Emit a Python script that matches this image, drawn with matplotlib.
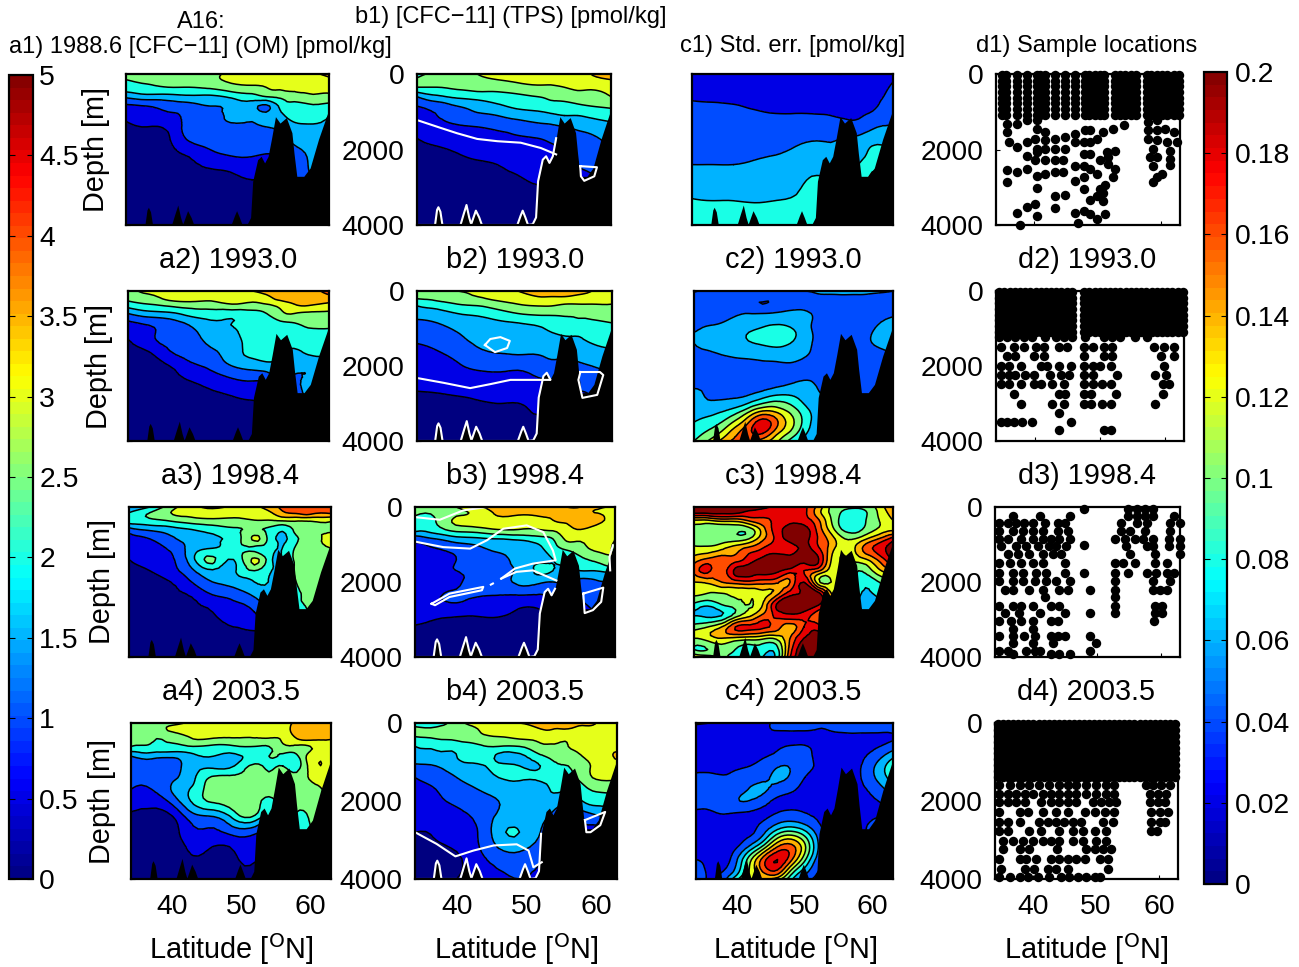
import numpy as np
import matplotlib
matplotlib.use("Agg")
import matplotlib.pyplot as plt
import matplotlib.tri as mtri
from matplotlib.cm import ScalarMappable
from matplotlib.colors import ListedColormap, Normalize
from matplotlib.patches import Rectangle

plt.rcParams["font.family"] = ["Liberation Sans", "DejaVu Sans"]
plt.rcParams["mathtext.default"] = "regular"

W, H = 1299, 967

# grids for a, b and c1 panels
lat_ab = [34, 37, 40, 43, 46, 49, 52, 54, 56, 58, 60, 63]
dep_ab = [0, 150, 350, 600, 850, 1100, 1400, 1700, 2000, 2400, 2800, 3300, 4000]
# finer grid for c2-c4
lat_c = [34, 36, 38, 40, 42, 44, 46, 48, 50, 52, 54, 56, 58, 60, 63]
dep_c = [0, 150, 350, 600, 850, 1100, 1400, 1700, 2000, 2300, 2600, 2900, 3200, 3500, 3800, 4000]

a1 = [[2.6,2.7,2.7,2.8,2.9,3.1,3.2,3.2,3.2,3.3,3.4,3.6],
      [2.5,2.6,2.7,2.8,2.9,3.1,3.2,3.2,3.2,3.3,3.3,3.4],
      [2.3,2.4,2.5,2.5,2.6,2.8,2.9,3.0,3.1,3.1,3.1,3.1],
      [1.6,1.8,1.8,1.9,1.9,2.1,2.3,2.5,2.6,2.8,2.9,2.9],
      [0.9,1.0,1.2,1.3,1.5,1.6,1.7,1.4,2.1,2.3,2.4,2.3],
      [0.6,0.8,0.9,1.1,1.3,1.6,1.6,1.7,1.9,2.2,2.3,2.0],
      [0.4,0.5,0.6,1.2,1.3,1.4,1.4,1.5,1.6,1.8,1.9,1.9],
      [0.3,0.4,0.45,1.1,1.2,1.3,1.35,1.3,1.4,1.6,1.8,1.9],
      [0.3,0.3,0.4,0.7,1.0,1.2,1.2,1.1,1.2,1.4,1.6,1.9],
      [0.2,0.2,0.3,0.4,0.6,0.7,0.8,0.8,0.9,1.2,1.5,1.9],
      [0.2,0.2,0.2,0.3,0.3,0.4,0.5,0.5,0.6,1.0,1.4,1.9],
      [0.1,0.1,0.2,0.2,0.2,0.3,0.3,0.3,0.3,0.5,1.0,1.9],
      [0.1,0.1,0.1,0.1,0.2,0.2,0.2,0.2,0.2,0.2,0.5,1.0]]

a2 = [[2.8,3.1,3.2,3.3,3.2,3.3,3.5,3.7,3.8,3.8,3.8,4.2],
      [2.7,2.9,3.2,3.3,3.2,3.3,3.2,3.4,3.8,3.8,3.8,3.9],
      [2.3,2.5,2.7,2.8,2.8,3.0,2.9,3.0,3.2,3.5,3.6,3.4],
      [1.5,1.8,1.9,2.2,2.3,2.2,2.3,2.5,2.9,3.0,2.9,2.9],
      [0.9,1.1,1.3,1.6,1.9,2.0,2.1,2.2,2.4,2.5,2.6,2.6],
      [0.7,0.9,1.2,1.4,1.7,1.9,2.2,2.2,2.2,2.3,2.4,2.4],
      [0.4,0.8,1.1,1.2,1.6,1.8,2.2,2.2,2.1,2.1,2.2,2.1],
      [0.3,0.4,0.9,1.1,1.3,1.8,2.1,2.2,2.1,1.9,2.0,2.0],
      [0.2,0.3,0.5,0.9,1.1,1.5,1.7,1.8,1.8,1.7,1.6,1.9],
      [0.1,0.2,0.3,0.5,0.7,0.9,1.0,1.1,1.4,1.4,1.7,1.9],
      [0.1,0.1,0.2,0.3,0.4,0.5,0.6,0.7,0.9,1.0,1.7,1.9],
      [0.1,0.1,0.1,0.2,0.2,0.2,0.2,0.3,0.3,0.3,0.5,1.0],
      [0.1,0.1,0.1,0.1,0.1,0.1,0.1,0.2,0.2,0.2,0.2,0.5]]

a3 = [[1.5,2.0,2.8,3.3,3.6,3.4,3.4,3.7,4.1,4.2,4.1,4.1],
      [2.0,2.5,3.0,3.2,3.3,3.2,3.2,3.4,3.9,4.1,4.2,4.1],
      [2.3,2.4,2.6,2.8,2.9,2.9,3.0,3.0,3.1,3.1,3.1,3.1],
      [1.3,1.6,1.8,2.0,2.2,2.4,2.6,2.4,2.1,2.7,2.9,2.9],
      [0.8,1.0,1.4,1.7,1.9,2.2,3.1,2.4,1.9,2.4,2.8,3.2],
      [0.7,0.8,1.1,1.7,2.0,2.2,2.4,2.2,2.0,2.6,3.0,3.0],
      [0.5,0.7,0.9,1.8,2.6,2.0,3.1,2.3,2.0,2.6,2.8,2.9],
      [0.4,0.5,0.8,1.4,1.9,1.9,2.5,2.1,2.0,2.6,2.9,3.1],
      [0.3,0.4,0.5,1.0,1.5,1.7,2.0,2.0,2.0,2.5,2.8,2.8],
      [0.2,0.3,0.4,0.5,0.9,1.1,1.5,1.8,2.0,2.4,2.6,2.8],
      [0.1,0.2,0.3,0.4,0.5,0.8,1.0,1.5,2.0,2.2,2.5,2.8],
      [0.1,0.1,0.2,0.3,0.3,0.4,0.5,0.5,0.5,1.0,1.5,2.0],
      [0.1,0.1,0.1,0.1,0.1,0.2,0.2,0.2,0.2,0.5,0.5,1.0]]

a4 = [[2.7,2.8,2.8,3.2,3.2,3.2,3.3,3.3,3.3,3.6,3.7,3.8],
      [2.7,2.8,3.1,3.2,3.2,3.2,3.2,3.3,3.3,3.7,3.8,3.9],
      [2.6,2.6,2.7,3.1,3.1,3.05,3.05,3.1,3.1,3.6,3.8,3.7],
      [2.5,2.4,2.4,2.5,2.4,2.45,2.5,2.5,2.9,2.9,3.0,3.1],
      [1.5,1.7,1.6,1.9,2.0,1.9,2.2,2.5,2.4,2.4,3.2,3.2],
      [1.2,1.2,1.3,1.8,1.9,2.0,2.6,2.4,2.5,2.3,3.2,3.2],
      [1.1,1.1,1.4,1.9,2.6,2.6,2.7,2.7,2.7,2.7,3.05,3.1],
      [1.0,1.0,1.55,2.1,2.8,2.8,2.8,2.8,2.8,2.8,2.85,3.1],
      [0.75,0.65,1.2,2.1,2.6,2.8,2.8,2.3,2.8,2.8,2.8,3.0],
      [0.45,0.4,0.48,1.3,1.5,2.2,2.4,2.0,2.8,2.4,2.6,2.8],
      [0.4,0.3,0.3,0.9,0.9,1.2,1.1,1.5,2.8,2.4,2.4,2.5],
      [0.2,0.2,0.2,0.55,0.4,0.5,0.6,1.0,2.8,2.8,2.0,2.0],
      [0.1,0.1,0.1,0.2,0.2,0.2,0.3,0.5,2.8,2.8,1.0,1.0]]

b1 = [[2.2,2.7,2.8,3.0,3.1,3.2,3.3,3.3,3.3,3.4,3.5,3.8],
      [2.6,2.8,2.8,2.9,3.0,3.1,3.2,3.2,3.3,3.3,3.4,3.5],
      [2.5,2.5,2.6,2.7,2.7,2.8,2.9,2.9,3.0,3.1,3.1,3.2],
      [1.5,1.9,2.1,2.2,2.3,2.4,2.5,2.6,2.7,2.8,2.8,3.0],
      [1.0,1.2,1.5,1.7,1.9,2.1,2.2,2.3,2.3,2.4,2.5,2.6],
      [0.85,1.0,1.2,1.4,1.5,1.7,1.8,1.9,2.0,2.0,2.1,2.2],
      [0.7,0.85,0.95,1.0,1.1,1.2,1.35,1.4,1.5,1.6,1.7,1.9],
      [0.5,0.65,0.75,0.8,0.85,0.95,1.0,1.1,1.2,1.3,1.4,1.7],
      [0.4,0.45,0.55,0.65,0.7,0.75,0.8,0.9,1.0,1.1,1.2,1.5],
      [0.3,0.35,0.4,0.45,0.5,0.6,0.7,0.8,0.9,1.0,1.1,1.3],
      [0.2,0.25,0.3,0.35,0.4,0.45,0.55,0.6,0.8,0.85,0.9,1.1],
      [0.1,0.15,0.2,0.2,0.25,0.3,0.4,0.4,0.5,0.6,0.7,0.9],
      [0.1,0.1,0.1,0.15,0.2,0.2,0.3,0.3,0.4,0.5,0.5,0.6]]

b2 = [[2.5,2.8,3.0,3.1,3.3,3.5,3.7,3.8,3.8,3.7,3.5,3.2],
      [2.6,2.7,2.8,3.0,3.2,3.3,3.5,3.5,3.5,3.4,3.3,3.2],
      [2.1,2.3,2.5,2.6,2.8,3.0,3.1,3.1,3.0,3.0,3.0,3.0],
      [1.7,1.8,2.0,2.1,2.3,2.5,2.6,2.6,2.6,2.6,2.7,2.8],
      [1.4,1.5,1.7,1.8,1.9,2.0,2.1,2.2,2.3,2.4,2.4,2.5],
      [1.2,1.3,1.5,1.7,1.8,1.8,1.9,2.0,2.1,2.1,2.2,2.3],
      [1.0,1.1,1.3,1.6,1.95,1.8,1.7,1.7,1.8,1.9,2.0,2.1],
      [0.85,0.95,1.1,1.3,1.4,1.5,1.5,1.6,1.6,1.7,1.8,1.9],
      [0.8,0.85,0.95,1.1,1.1,1.1,1.2,1.3,1.3,1.4,1.5,1.7],
      [0.7,0.7,0.7,0.75,0.8,0.85,0.95,1.0,1.1,1.2,1.2,1.4],
      [0.4,0.45,0.5,0.55,0.6,0.6,0.7,0.8,0.9,0.9,1.0,1.1],
      [0.2,0.25,0.3,0.3,0.35,0.4,0.5,0.5,0.6,0.7,0.8,0.9],
      [0.1,0.1,0.1,0.2,0.2,0.3,0.3,0.4,0.4,0.5,0.5,0.6]]

b3 = [[2.7,2.7,3.0,3.4,3.7,3.7,3.7,3.8,4.0,4.0,3.6,3.5],
      [2.6,2.6,2.9,3.1,3.6,3.6,3.6,3.6,3.7,3.7,3.5,3.3],
      [2.4,2.5,3.1,3.2,3.4,3.3,3.4,3.5,3.6,3.7,3.7,3.3],
      [2.2,2.3,2.7,2.8,3.0,3.0,3.0,3.1,3.3,3.5,3.3,3.1],
      [1.2,1.5,1.8,1.9,2.0,2.1,2.3,2.5,3.1,3.1,3.2,3.0],
      [0.9,1.0,1.2,1.4,1.6,1.7,1.9,2.3,2.6,2.8,3.1,2.9],
      [0.7,0.8,1.0,1.2,1.3,1.7,1.9,2.0,2.2,2.4,2.6,3.0],
      [0.7,0.9,1.0,1.1,1.3,1.6,2.1,2.0,1.9,2.0,2.0,2.2],
      [0.75,0.8,0.9,1.2,1.3,1.6,1.6,1.5,1.5,1.3,1.4,1.5],
      [0.7,0.95,1.1,1.0,0.95,0.9,0.9,1.0,1.0,1.0,1.2,1.3],
      [0.65,0.65,0.65,0.6,0.6,0.45,0.45,0.7,0.9,0.9,1.0,1.1],
      [0.45,0.4,0.35,0.3,0.3,0.3,0.3,0.3,0.7,0.8,0.9,1.0],
      [0.2,0.2,0.2,0.2,0.2,0.2,0.2,0.2,0.4,0.5,0.6,0.7]]

b4 = [[2.3,2.2,2.8,3.2,3.4,3.5,3.6,3.6,3.6,3.6,3.5,3.2],
      [2.6,2.6,2.8,3.0,3.2,3.3,3.5,3.5,3.5,3.4,3.4,3.3],
      [2.5,2.6,2.7,2.9,3.0,3.1,3.2,3.3,3.1,3.3,3.3,3.2],
      [2.0,2.1,2.2,2.4,2.5,2.5,2.9,2.9,3.0,3.2,3.3,3.3],
      [1.8,1.9,2.0,2.3,1.9,1.9,2.4,2.6,2.7,3.0,3.2,3.6],
      [1.4,1.5,1.8,1.9,2.1,2.0,2.0,2.4,2.5,2.8,3.1,3.2],
      [1.0,1.2,1.5,1.7,2.0,2.1,2.1,2.2,2.3,2.7,3.05,3.05],
      [0.9,1.0,1.3,1.5,1.7,1.7,1.7,2.1,2.0,2.3,2.6,2.6],
      [0.7,0.9,1.1,1.3,1.5,1.6,1.7,1.7,1.6,2.0,2.2,2.2],
      [0.6,0.7,0.9,1.1,1.6,1.7,1.6,1.4,1.2,1.2,1.4,1.6],
      [0.5,0.55,0.75,1.0,1.8,2.0,1.5,1.2,1.0,0.9,0.8,1.0],
      [0.3,0.4,0.5,0.9,1.4,1.5,1.2,0.9,0.7,0.6,0.6,0.8],
      [0.1,0.3,0.5,0.7,0.9,1.0,0.9,0.7,0.5,0.5,0.5,0.6]]

c1 = [[.028,.028,.028,.03,.03,.035,.04,.04,.04,.035,.036,.036],
      [.03,.03,.03,.03,.03,.03,.033,.033,.034,.034,.034,.039],
      [.033,.033,.033,.033,.032,.032,.032,.032,.032,.032,.033,.042],
      [.038,.037,.036,.035,.034,.034,.034,.033,.032,.032,.035,.045],
      [.043,.042,.041,.038,.037,.037,.036,.035,.034,.034,.037,.05],
      [.05,.046,.045,.043,.041,.041,.041,.04,.037,.038,.044,.055],
      [.06,.05,.049,.047,.047,.048,.05,.05,.05,.048,.057,.06],
      [.052,.052,.052,.052,.052,.055,.058,.058,.06,.063,.07,.066],
      [.055,.055,.055,.056,.057,.062,.066,.064,.066,.07,.083,.078],
      [.06,.06,.06,.062,.065,.068,.073,.073,.074,.08,.093,.09],
      [.069,.068,.068,.069,.071,.073,.083,.08,.085,.09,.105,.10],
      [.08,.079,.079,.078,.079,.082,.09,.09,.09,.10,.10,.10],
      [.09,.09,.09,.09,.09,.09,.09,.09,.09,.10,.10,.10]]

c2 = [[.065,.055,.05,.05,.05,.05,.055,.06,.06,.065,.07,.07,.07,.065,.06],
      [.045,.045,.045,.045,.045,.045,.045,.05,.05,.055,.055,.055,.055,.055,.055],
      [.045,.045,.045,.045,.045,.04,.045,.05,.05,.05,.05,.042,.045,.05,.05],
      [.05,.05,.053,.057,.06,.06,.062,.065,.065,.055,.05,.045,.048,.05,.055],
      [.056,.058,.06,.065,.07,.075,.078,.075,.068,.055,.052,.05,.05,.055,.07],
      [.06,.062,.066,.072,.08,.085,.087,.085,.07,.056,.052,.05,.05,.06,.08],
      [.06,.062,.065,.07,.078,.082,.085,.08,.068,.056,.052,.05,.05,.06,.075],
      [.055,.057,.06,.063,.065,.067,.068,.067,.062,.055,.05,.05,.05,.05,.055],
      [.045,.047,.05,.052,.054,.056,.057,.058,.056,.053,.05,.05,.045,.05,.05],
      [.05,.05,.05,.05,.05,.052,.054,.056,.058,.056,.05,.05,.045,.05,.05],
      [.06,.058,.055,.053,.053,.056,.062,.066,.066,.06,.055,.05,.05,.05,.05],
      [.065,.06,.06,.062,.07,.085,.095,.09,.075,.063,.06,.06,.06,.06,.06],
      [.07,.072,.078,.09,.115,.14,.135,.115,.09,.07,.06,.06,.06,.06,.06],
      [.08,.088,.10,.125,.16,.19,.165,.13,.095,.072,.065,.06,.06,.06,.06],
      [.09,.105,.125,.155,.175,.18,.145,.115,.085,.07,.065,.06,.06,.06,.06],
      [.10,.12,.145,.165,.165,.15,.125,.095,.075,.07,.065,.06,.06,.06,.06]]

c3 = [[.21,.21,.21,.21,.21,.205,.195,.19,.185,.155,.115,.105,.105,.115,.16],
      [.205,.205,.205,.205,.195,.19,.185,.19,.185,.15,.115,.095,.09,.11,.15],
      [.14,.14,.15,.15,.165,.175,.185,.195,.19,.165,.12,.09,.09,.11,.14],
      [.115,.11,.105,.105,.11,.15,.19,.21,.21,.175,.13,.095,.095,.115,.135],
      [.11,.11,.11,.11,.12,.155,.185,.21,.21,.18,.15,.12,.125,.15,.19],
      [.125,.125,.135,.15,.165,.18,.19,.19,.205,.185,.15,.125,.15,.18,.21],
      [.15,.165,.17,.17,.19,.205,.21,.21,.21,.205,.14,.12,.13,.15,.205],
      [.165,.185,.17,.205,.21,.21,.205,.19,.18,.165,.13,.12,.10,.12,.16],
      [.14,.145,.16,.17,.175,.17,.165,.16,.20,.13,.12,.12,.09,.09,.12],
      [.125,.12,.12,.125,.125,.135,.15,.19,.205,.21,.14,.12,.085,.08,.10],
      [.095,.085,.10,.11,.12,.14,.20,.21,.21,.205,.16,.12,.08,.07,.09],
      [.08,.075,.08,.11,.135,.165,.185,.195,.19,.17,.15,.12,.09,.08,.09],
      [.11,.12,.14,.18,.185,.185,.17,.15,.18,.19,.16,.13,.10,.09,.09],
      [.12,.13,.14,.135,.13,.125,.125,.16,.20,.21,.20,.16,.12,.10,.10],
      [.10,.10,.11,.10,.09,.09,.09,.17,.21,.21,.21,.17,.13,.10,.10],
      [.14,.13,.11,.09,.085,.08,.085,.18,.21,.21,.21,.17,.13,.10,.10]]

c4 = [[.015,.02,.025,.03,.035,.035,.045,.045,.045,.042,.045,.05,.05,.05,.05],
      [.03,.032,.035,.037,.037,.037,.042,.042,.042,.04,.042,.045,.045,.045,.045],
      [.035,.035,.035,.035,.035,.035,.035,.036,.036,.036,.036,.036,.036,.036,.038],
      [.033,.033,.033,.033,.034,.035,.038,.041,.041,.036,.034,.034,.034,.036,.05],
      [.035,.035,.035,.036,.037,.039,.044,.05,.045,.037,.034,.034,.036,.046,.075],
      [.037,.037,.037,.038,.04,.046,.058,.058,.046,.038,.034,.034,.038,.056,.095],
      [.042,.042,.041,.044,.05,.056,.064,.056,.04,.035,.034,.034,.038,.056,.09],
      [.043,.043,.044,.05,.062,.063,.052,.043,.036,.034,.034,.034,.036,.045,.07],
      [.042,.043,.045,.058,.059,.048,.036,.036,.035,.034,.034,.033,.034,.037,.05],
      [.038,.038,.041,.04,.038,.036,.04,.043,.04,.036,.034,.032,.032,.034,.035],
      [.03,.03,.033,.033,.036,.044,.062,.07,.06,.042,.034,.032,.032,.045,.05],
      [.03,.03,.032,.036,.04,.065,.11,.125,.10,.055,.034,.03,.03,.05,.05],
      [.03,.032,.034,.04,.07,.115,.165,.17,.125,.06,.032,.03,.03,.04,.04],
      [.04,.033,.03,.058,.115,.172,.20,.165,.105,.05,.03,.03,.03,.03,.03],
      [.05,.037,.04,.07,.125,.165,.175,.115,.07,.04,.03,.03,.03,.03,.03],
      [.05,.038,.05,.095,.13,.14,.13,.085,.05,.035,.03,.03,.03,.03,.03]]

# bottom topography
bathy_lat = [34, 36.7, 37.0, 37.2, 37.5, 37.8, 40.5, 41.0, 41.4, 41.8, 42.1, 42.8, 43.3, 43.7, 49.0, 49.5, 49.8,
             50.2, 50.6, 51.3, 51.8, 52.1, 52.8, 53.3, 53.8, 54.3, 54.8, 55.35, 56.0, 56.9, 57.7, 58.0, 58.4,
             59.4, 60.3, 61.5, 63]
bathy_dep = [4000, 4000, 3600, 3530, 3650, 4000, 4000, 3700, 3470, 3800, 3980, 3620, 3800, 4000, 4000, 3750, 3620,
             3800, 4000, 3980, 3800, 2840, 2270, 2180, 2355, 2180, 1700, 1130, 1300, 1155, 1555, 2100, 2710,
             2710, 2490, 1730, 930]

# white contour pieces on the b panels
white_b1 = [([34, 37.4, 40, 43, 46, 49.5, 52.5, 54.8], [1220, 1420, 1570, 1720, 1780, 1820, 1960, 2130]),
            ([58.4, 60.9, 60.5, 59, 58.5, 58.4], [2440, 2470, 2710, 2830, 2710, 2440])]
white_b2 = [([34, 38, 41.9, 45, 47.9, 53.8], [2320, 2450, 2590, 2480, 2370, 2370]),
            ([44.1, 44.9, 46.4, 47.8, 47.4, 45.6, 44.1], [1440, 1280, 1230, 1330, 1520, 1630, 1440]),
            ([58.3, 61.2, 61.7, 60.8, 58.6, 58, 58.3], [2160, 2160, 2240, 2770, 2850, 2370, 2160])]
white_b3 = [([34, 37.6, 41, 44.4], [270, 340, 90, 0]),
            ([34.2, 38.1, 42, 44.4, 46.8, 50.2, 52.6, 54, 54.4, 51.1, 48.5, 46.5],
             [930, 1070, 1110, 890, 580, 490, 670, 1160, 1420, 1510, 1640, 1910]),
            ([46.5, 48.7, 51.1, 54.5], [1910, 1730, 1690, 1960]),
            ([36.4, 39, 43.9, 43.7, 39, 36.9, 36.4], [2580, 2310, 2130, 2220, 2400, 2620, 2580]),
            ([45, 45.3], [2070, 2040]),
            ([58.4, 61.3, 61, 59.8, 58.6, 58.4], [2310, 2150, 2530, 2750, 2830, 2310]),
            ([62.7, 62.2, 62.3], [1020, 1330, 1690])]
white_b4 = [([34, 37.1, 39.8, 42.4, 45.3, 48.6, 50.3, 51, 52.2], [2800, 3100, 3420, 3270, 3140, 3110, 3270, 3700, 3570]),
            ([58.4, 61.3, 60.6, 59.2, 58.6, 58.4], [2490, 2280, 2620, 2800, 2800, 2490])]

# samples: columns in the upper ocean
top_depths = [30, 180, 330, 480, 630, 780, 930, 1080]
d1_top_lat = [34.9, 35.6, 37.3, 38.9, 40.4, 41, 41.8, 43.3, 44.9, 46.5, 48, 48.7, 49.6, 50.4, 51, 52.8, 53.5, 54.3,
              55.2, 56, 57.8, 58.5, 59.3, 60.2, 61, 62, 62.8]
d2_top_lat = [34.5, 35.3, 36.1, 36.9, 37.7, 38.5, 39.3, 40.1, 40.9, 41.7, 42.5, 43.3, 44.1, 44.9, 45.7, 47.6, 48.4,
              49.2, 50, 50.8, 51.6, 52.4, 53.2, 54, 54.8, 55.6, 56.4, 57.2, 58, 58.8, 59.6, 60.4, 61.2, 62, 62.8]
d4_top_lat = [34.5, 35.3, 36.1, 36.9, 37.7, 38.5, 39.3, 40.1, 40.9, 41.7, 42.5, 43.3, 44.1, 44.9, 45.7, 46.5, 47.3,
              48.1, 48.9, 49.7, 50.5, 51.3, 52.1, 52.9, 53.7, 54.5, 55.3, 56.1, 56.9, 57.7, 58.5, 59.3, 60.1, 60.9,
              61.7, 62.5]
d4_top_depths = [30, 180, 330, 480, 630, 780, 930, 1080, 1230, 1380]

d1_lat = [35.7,37.3,35.7,38.9,36,37.3,38.9,40.4,40.4,41.8,
          40.2,41.8,43.3,44.9,46.5,48.1,48.8,50.9,49.9,40.4,
          41.8,43.3,44.9,46.5,47.8,48.8,52.5,54.1,38.9,40.4,
          47.8,48.8,51.5,52.8,50.4,51.7,40.2,41.8,43.3,44.6,
          46.5,47.8,48.8,49.9,35.7,37.3,38.9,40.4,41.8,43.3,
          44.6,51.7,52.8,52.5,35.7,40.4,46.5,47.8,47.8,51.2,
          50.4,43.3,44.9,50.9,49.9,48.8,50.9,43.3,40.2,38.9,
          37.3,40.4,46.5,47.8,48.8,49.9,51.2,37.8,46.9,58,
          59.3,60.6,62,58,59.3,58,59.3,60.9,62.5,58.8,
          59.3,58.3,61.4,61.4,61.4,58.8,60.1,59.3,58.8]
d1_dep = [1320,1320,1540,1230,1800,1940,1800,1230,1450,1540,
          1720,1760,1720,1670,1580,1490,1490,1540,1720,1980,
          1980,1980,1980,1800,1800,1800,1450,1360,2160,2070,
          2120,2120,2070,2030,2290,2200,2290,2290,2290,2290,
          2450,2430,2520,2650,2530,2600,2520,2690,2650,2600,
          2600,2380,2520,2740,2870,3030,2830,2740,3050,2930,
          3050,3230,3210,3140,3230,3340,3360,3540,3450,3510,
          3670,3760,3670,3630,3720,3850,3700,4000,3960,1270,
          1230,1450,1540,1490,1490,1720,1760,1800,1800,1980,
          2200,2200,2030,2250,2400,2430,2650,2740,2850]

# deeper samples, (depth, latitudes)
d2_rows = [(1230, [34.4,35.7,37,38.3,39.6,41.6,43.2,44.5,45.8,47.8,50.6,51.9,53.2,55.5,57.3]),
           (1500, [34.7,36.7,38.3,40.1,41.4,43.7,45,47.6,48.9,50.6,51.9,58.4,59.9,61.5]),
           (1740, [35.7,37,39.8,41.4,47.6,50.6,51.9,59.4,61.5]),
           (2010, [34.7,36,37.8,40.9,41.9,43.7,45.5,47.6,48.9,50.1,51.7,59.9]),
           (2250, [34.7,36,37,38.5,39.8,42.4,44,45.2,47.6,48.9,52.7,58.6,60.2]),
           (2490, [34.7,36,37.8,39.8,40.9,42.7,44.5,47.6,48.9,50.4,51.7,59.7,60.7]),
           (2740, [36.7,43.7,44.7,47.6,48.6,52.5,59.7]),
           (3000, [37.8,42.7,44.5,47.6,48.6,50.4,51.7,58.6]),
           (3250, [43.7]),
           (3490, [34.7,35.7,36.7,38,39.6,45.5]),
           (3700, [43.7,50.6,51.7])]

d3_rows = [(60, [47.9,54.9,56.2,57.5,58.8]),
           (240, [36.8,41,45.7,54.9,56.2,57.5,58.8,62]),
           (420, [34.7,36,37.3,38.6,39.9,41.8,43.9,44.9,53.8,56.2,57.8,61.4,63]),
           (640, [34.7,36.8,38.4,39.9,41.5,43.9,45.4,53.8,55.1,57.5,61.4]),
           (860, [34.7,36,38.1,39.9,41.5,42.8,44.1,45.7,52.8,54.3,55.9,57.2,58.8,61.2,63]),
           (1000, [47.9]),
           (1040, [34.9,37.3,38.9,40.7,42.5,43.6,45.2,54.6,57.8,58.8,61.2,63]),
           (1260, [36,37.6,39.4,41.5,43.1,44.4,55.1,59.1,63]),
           (1480, [34.7,36.3,38.1,39.9,41.5,44.9,52.8,54.1,55.9,59.1,60.9]),
           (1750, [34.7,36.8,38.4,40.4,42,44.9,47.9,52.8,54.9,57.8,59.3,60.9,62]),
           (1970, [34.7,36.8,38.4,40.2,42,43.6,45.7,52.8,58.8,61.4]),
           (2200, [35.5,36.8,39.4,41.5,44.1,45.4,48.9,52.8,58.8,59.9,60.9]),
           (2400, [41.8,52.8]),
           (2640, [34.7,36.8,38.1,39.9,42.8,44.1,52.8,59.1,60.1]),
           (2820, [35.5,37.8,41,44.9,48.9,52.8,59.1,60.1]),
           (3040, [34.7,36.5,38.1,39.9,42.8,43.9,58.9]),
           (3260, [36.8,39.9]),
           (3440, [34.7,36.8,38.6,40.2,42.8,44.9,43.9,48.9]),
           (3620, [36.8,39.9,43.1,49.9]),
           (3840, [34.7,36,38.9,40.2,41,48.9]),
           (3930, [36.8,42.8,44.1,45.7])]

d4_rows = [(1600, [34.7,36.3,37.9,39.4,41,42.6,44.2,45.5,46.9,48.4,50,51.6,52.9,58,59,60.3,61.7]),
           (1810, [34.7,36,37.3,38.7,40,41.6,42.9,44.2,45.5,46.9,48.4,50,51.6,52.9,58.5,59.8,61.1]),
           (2020, [34.7,36,37.3,38.7,41.3,42.9,44.2,45.5,46.9,49.5,50.8,52.1,53.2,58.5,59.8,60.9]),
           (2270, [34.7,37.9,39.2,41.6,43.7,45.5,48.2,49.8,51.4,52.9,58.8,60.1,61.4]),
           (2530, [34.7,36,37.9,41,42.4,43.7,45,46.3,47.7,51.1,52.7,58.8,60.1,60.9]),
           (2780, [34.7,36,39.4,41.3,44.2,46.3,47.9,49.8,51.6,58.8,59.6]),
           (3030, [35.2,36.8,38.4,40,41.6,42.9,44.2,46.3,47.9,50,51.6]),
           (3240, [35.2,37.9,39.4,43.9,48.4,49.8,51.1,52.4]),
           (3490, [34.7,37.9,38.9,40.5,42.9,44.2,45.5,46.9,48.2,50.6,51.9]),
           (3740, [35,38.7,40.2,42.4,43.7,45.5,51.9]),
           (3960, [34.7,36.3,37.9,39.2,40.8,42.6,44.5,45.8,47.1,48.4,49.8,50.6])]

levels_ab = [0, 0.5, 1, 1.5, 2, 2.5, 3, 3.5, 4, 4.5, 5]
levels_c = [0, .02, .04, .06, .08, .10, .12, .14, .16, .18, .20, .30]
ticks_ab = [0, 0.5, 1, 1.5, 2, 2.5, 3, 3.5, 4, 4.5, 5]
ticks_c = [0, .02, .04, .06, .08, .10, .12, .14, .16, .18, .20]
ticklabels_c = ["0", "0.02", "0.04", "0.06", "0.08", "0.1", "0.12", "0.14", "0.16", "0.18", "0.2"]
ticklabels_ab = ["0", "0.5", "1", "1.5", "2", "2.5", "3", "3.5", "4", "4.5", "5"]


def jet_rgb(x):
    # old matlab jet
    x = np.asarray(x, dtype=float)
    r = np.interp(x, [0, 3/8, 5/8, 7/8, 1], [0, 0, 1, 1, 0.5])
    g = np.interp(x, [0, 1/8, 3/8, 5/8, 7/8, 1], [0, 0, 1, 1, 0, 0])
    b = np.interp(x, [0, 1/8, 3/8, 5/8, 1], [0.5, 1, 1, 0, 0])
    return np.column_stack([r, g, b])


jet64 = ListedColormap(jet_rgb((np.arange(64) + 0.5) / 64))


def px_axes(fig, left, top, right, bottom):
    return fig.add_axes([left / W, 1 - bottom / H, (right - left) / W, (bottom - top) / H])


def ptext(fig, x, y, s, size=20.8, **kw):
    kw.setdefault("ha", "center")
    kw.setdefault("va", "center")
    return fig.text(x / W, 1 - y / H, s, fontsize=size, **kw)


def section(ax, lat, dep, vals, levels, vmax):
    lon2, dep2 = np.meshgrid(lat, np.array(dep) / 100.0)
    tri = mtri.Triangulation(lon2.ravel(), dep2.ravel())
    z = np.array(vals, dtype=float).ravel()
    ref = mtri.UniformTriRefiner(tri)
    fine, zfine = ref.refine_field(z, subdiv=2)
    fine2 = mtri.Triangulation(fine.x, fine.y * 100, fine.triangles)
    cols = jet_rgb(np.minimum(np.array(levels[:-1]) / vmax, 1))
    ax.tricontourf(fine2, zfine, levels=levels, colors=[tuple(c) for c in cols])
    # keep overshoots under zero navy
    ax.tricontourf(fine2, zfine, levels=[-1, levels[0]], colors=[tuple(cols[0])])
    ax.tricontour(fine2, zfine, levels=levels[1:-1], colors="k", linewidths=1.1)
    ax.fill_between(bathy_lat, bathy_dep, 4000, color="k", lw=0, zorder=3)


def style(ax, ylabels=False, xlabels=False):
    ax.set_xlim(34, 63)
    ax.set_ylim(4000, 0)
    ax.set_xticks([40, 50, 60])
    ax.set_yticks([0, 2000, 4000])
    ax.set_axisbelow(True)
    ax.tick_params(direction="in", length=3, width=0.8, labelsize=20.4, pad=9)
    ax.tick_params(axis="y", labelleft=ylabels)
    ax.tick_params(axis="x", labelbottom=xlabels, pad=11)
    for s in ax.spines.values():
        s.set_linewidth(1.6)
        s.set_zorder(6)


fig = plt.figure(figsize=(W / 100, H / 100), dpi=100)

boxes_a = [(126, 74, 329, 225), (128, 291, 329, 441), (129, 507, 331, 657), (131, 723, 331, 879)]
boxes_b = [(417, 74, 611, 225), (417, 291, 612, 441), (415, 507, 615, 657), (415, 723, 617, 879)]
boxes_c = [(692, 74, 893, 225), (694, 291, 893, 441), (694, 507, 893, 657), (696, 723, 893, 879)]
boxes_d = [(996, 74, 1180, 225), (996, 291, 1184, 441), (995, 507, 1180, 657), (995, 723, 1178, 879)]

for i, (box, vals) in enumerate(zip(boxes_a, [a1, a2, a3, a4])):
    ax = px_axes(fig, *box)
    section(ax, lat_ab, dep_ab, vals, levels_ab, 5)
    style(ax, xlabels=i == 3)

whites = [white_b1, white_b2, white_b3, white_b4]
white_end = [54.8, 53.8, 54.5, 52.2]
for i, (box, vals) in enumerate(zip(boxes_b, [b1, b2, b3, b4])):
    ax = px_axes(fig, *box)
    section(ax, lat_ab, dep_ab, vals, levels_ab, 5)
    # white line follows the bottom as far as the north edge of the contour
    blat = np.array(bathy_lat)
    bdep = np.array(bathy_dep)
    keep = blat <= white_end[i]
    ax.plot(blat[keep], bdep[keep], color="w", lw=1.5, zorder=4)
    for xs, ys in whites[i]:
        ax.plot(xs, ys, color="w", lw=1.5, zorder=4)
    style(ax, ylabels=True, xlabels=i == 3)

for i, box in enumerate(boxes_c):
    ax = px_axes(fig, *box)
    if i == 0:
        section(ax, lat_ab, dep_ab, c1, levels_c, 0.2)
    else:
        section(ax, lat_c, dep_c, [c2, c3, c4][i - 1], levels_c, 0.2)
    style(ax, xlabels=i == 3)

tops = [(d1_top_lat, top_depths), (d2_top_lat, top_depths), ([], []), (d4_top_lat, d4_top_depths)]
deep = [None, d2_rows, d3_rows, d4_rows]
for i, box in enumerate(boxes_d):
    ax = px_axes(fig, *box)
    tl, td = tops[i]
    if tl:
        xx, yy = np.meshgrid(tl, td)
        ax.plot(xx.ravel(), yy.ravel(), "o", color="k", ms=6.8, mew=0, clip_on=False)
    if i == 0:
        ax.plot(d1_lat, d1_dep, "o", color="k", ms=6.8, mew=0, clip_on=False)
    else:
        for dd, lats in deep[i]:
            ax.plot(lats, [dd] * len(lats), "o", color="k", ms=6.8, mew=0, clip_on=False)
    style(ax, ylabels=True, xlabels=i == 3)

# colour bars
cax = px_axes(fig, 9, 75, 33, 879)
sm = ScalarMappable(norm=Normalize(0, 5), cmap=jet64)
cb = fig.colorbar(sm, cax=cax)
cb.set_ticks(ticks_ab, labels=ticklabels_ab)
cax2 = px_axes(fig, 1204, 72, 1227, 884)
sm2 = ScalarMappable(norm=Normalize(0, 0.2), cmap=jet64)
cb2 = fig.colorbar(sm2, cax=cax2)
cb2.set_ticks(ticks_c, labels=ticklabels_c)
for c, p in ((cb, 4.5), (cb2, 6)):
    c.ax.tick_params(direction="in", length=4, width=0.8, labelsize=20.4, pad=p, left=True, right=True)
    c.outline.set_linewidth(1.6)

# text
ptext(fig, 201, 22, "A16:", size=17)
ptext(fig, 200, 47, "a1) 1988.6 [CFC\u221211] (OM) [pmol/kg]", size=17)
ptext(fig, 511, 17, "b1) [CFC\u221211] (TPS) [pmol/kg]", size=17)
ptext(fig, 793, 46, "c1) Std. err. [pmol/kg]", size=17)
ptext(fig, 1087, 46, "d1) Sample locations", size=17)

years = ["1993.0", "1998.4", "2003.5"]
for row, (y, yr) in enumerate(zip([260, 476, 692], years)):
    for letter, x in zip("abcd", [[228, 230, 231][row], 515, 793, [1087, 1087, 1086][row]]):
        ptext(fig, x, y, f"{letter}{row + 2}) {yr}")

for x, y in [(96, 150), (99, 366), (102, 582), (102, 801)]:
    ptext(fig, x, y, "Depth [m]", rotation=90)
for x in [231, 516, 795, 1086]:
    ptext(fig, x, 949, r"Latitude [$^{\mathrm{O}}$N]")

# the picture ends just right of the colour bar labels
fig.add_artist(Rectangle((1289 / W, 0), 10 / W, 1, transform=fig.transFigure, color="w", lw=0, zorder=20))

fig.savefig("out.png", dpi=100)
